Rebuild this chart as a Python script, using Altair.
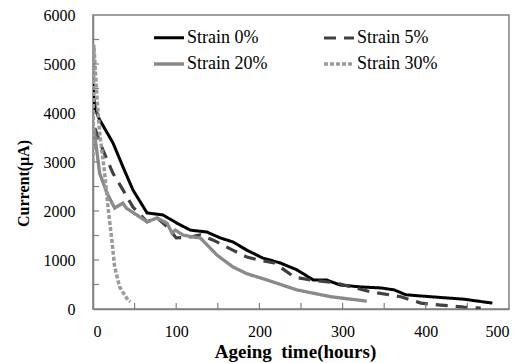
import altair as alt
import pandas as pd

# ---- data ----
names = ["Strain 0%", "Strain 5%", "Strain 20%", "Strain 30%"]

h_0 = [0, 1, 3, 8, 24, 36, 48, 65, 84, 101, 117, 137, 153, 168, 185, 204, 225, 245, 265, 281, 297, 322, 346, 362, 376, 406, 446, 480]
v_0 = [4600, 4300, 4060, 3860, 3390, 2900, 2430, 1960, 1920, 1750, 1610, 1570, 1450, 1370, 1200, 1040, 940, 800, 590, 590, 490, 450, 430, 390, 290, 250, 200, 120]

h_5 = [0, 2, 12, 24, 36, 48, 65, 77, 89, 100, 117, 129, 144, 168, 185, 199, 218, 242, 262, 293, 334, 370, 394, 418, 446, 466]
v_5 = [3300, 3700, 3240, 2770, 2430, 2080, 1780, 1860, 1680, 1450, 1470, 1510, 1410, 1200, 1060, 1000, 940, 650, 590, 530, 350, 250, 120, 80, 40, 20]

h_20 = [0, 1, 8, 17, 26, 36, 40, 56, 65, 77, 89, 95, 99, 108, 120, 129, 149, 168, 185, 206, 245, 286, 329]
v_20 = [3300, 3700, 2770, 2360, 2060, 2160, 2060, 1880, 1780, 1860, 1750, 1550, 1610, 1510, 1470, 1450, 1100, 860, 720, 610, 390, 250, 160]

h_30 = [0, 1, 5, 8, 14, 18, 23, 26, 32, 42, 45]
v_30 = [3000, 5390, 4270, 3590, 2780, 2080, 1350, 860, 450, 180, 150]

x_labels = [0, 100, 200, 300, 400, 500]
y_labels = [0, 1000, 2000, 3000, 4000, 5000, 6000]
x_minor = [50, 100, 150, 200, 250, 300, 350, 400, 450]
y_minor = [500, 1000, 1500, 2000, 2500, 3000, 3500, 4000, 4500, 5000, 5500]

colors = ["#000000", "#404040", "#8a8a8a", "#9a9a9a"]
dashes = [[1, 0], [12, 8], [1, 0], [4, 2]]
widths = [3, 3.5, 2, 1.2]

rows = []
for name, hs, vs in zip(names, [h_0, h_5, h_20, h_30], [v_0, v_5, v_20, v_30]):
    for i, (h, v) in enumerate(zip(hs, vs)):
        rows.append({"series": name, "h": h, "v": v, "idx": i})
df = pd.DataFrame(rows)

xs = alt.Scale(domain=[0, 500], nice=False)
ys = alt.Scale(domain=[0, 6000], nice=False)

x_title = "Ageing\u00a0 time(hours)"
y_title = "Current(μA)"

x_axis = alt.Axis(values=x_labels, ticks=False, grid=False, title=x_title, format="d",
                  labelPadding=14, titlePadding=3, titleFontSize=19, titleX=202)
y_axis = alt.Axis(values=y_labels, ticks=False, grid=False, title=y_title, format="d",
                  labelPadding=18, titlePadding=12, titleFontSize=16, titleY=168)

leg = alt.Legend(
    title=None, orient="none", legendX=59, legendY=6, columns=2, direction="horizontal",
    symbolType="stroke", symbolSize=900, labelFont="Liberation Serif",
    labelFontSize=18, labelColor="black", columnPadding=49, rowPadding=-6,
    labelOffset=1,
)

lines = alt.Chart(df).mark_line(clip=True).encode(
    x=alt.X("h:Q", scale=xs, axis=x_axis, title=x_title),
    y=alt.Y("v:Q", scale=ys, axis=y_axis, title=y_title),
    color=alt.Color("series:N", scale=alt.Scale(domain=names, range=colors), legend=leg),
    strokeDash=alt.StrokeDash("series:N", scale=alt.Scale(domain=names, range=dashes), legend=leg),
    strokeWidth=alt.StrokeWidth("series:N", scale=alt.Scale(domain=names, range=widths), legend=leg),
    order="idx:Q",
)

xt = alt.Chart(pd.DataFrame({"h": x_minor})).mark_rule(color="#808080", strokeWidth=1.2).encode(
    x=alt.X("h:Q", scale=xs, axis=x_axis, title=x_title),
    y=alt.value(294), y2=alt.value(288))
yt = alt.Chart(pd.DataFrame({"v": y_minor})).mark_rule(color="#808080", strokeWidth=1.2).encode(
    y=alt.Y("v:Q", scale=ys, axis=y_axis, title=y_title),
    x=alt.value(0), x2=alt.value(6))

chart = alt.layer(lines, xt, yt).properties(
    width=416, height=294,
    autosize=alt.AutoSizeParams(type="none"),
    padding={"left": 93, "top": 15, "right": 20, "bottom": 54},
    background="white",
).configure_view(stroke="#808080", strokeWidth=1.5).configure_axis(
    domainColor="#808080", domainWidth=1.5,
    labelFont="Liberation Serif", labelFontSize=16, labelColor="black",
    titleFont="Liberation Serif", titleFontWeight="bold", titleColor="black",
)

chart.save("out.html", embed_options={"renderer": "svg", "actions": False})
